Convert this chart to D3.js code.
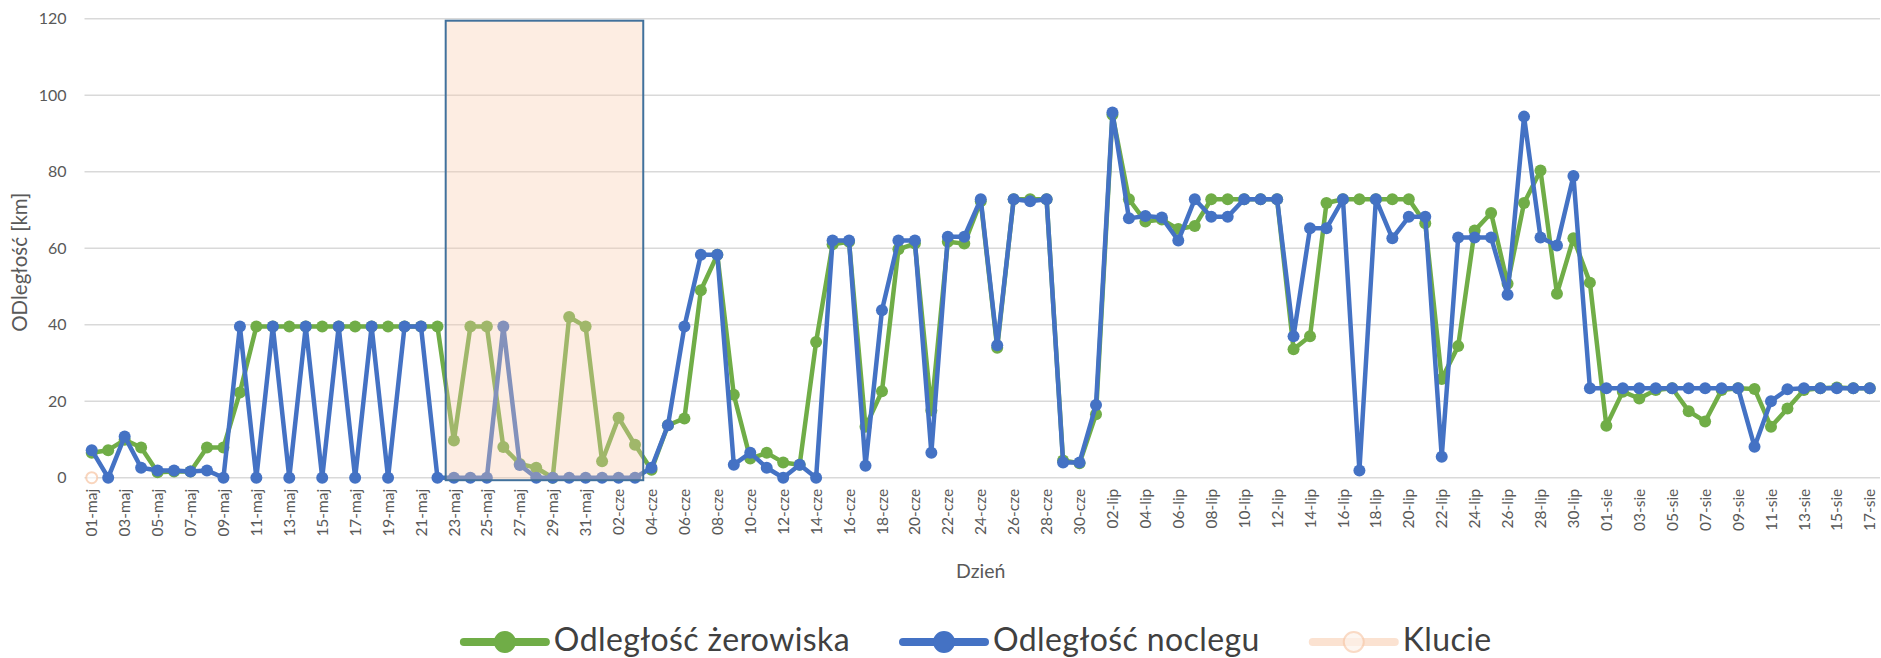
<!DOCTYPE html>
<html>
<head>
<meta charset="utf-8">
<script src="https://cdn.jsdelivr.net/npm/d3@7"></script>
<style>
  body { margin: 0; background: #fff; }
  svg { display: block; font-family: Lato, "Open Sans", sans-serif; }
</style>
</head>
<body>
<div id="chart"></div>
<script>
// Dni obserwacji
const dni = [
  "01-maj","02-maj","03-maj","04-maj","05-maj","06-maj","07-maj","08-maj","09-maj","10-maj",
  "11-maj","12-maj","13-maj","14-maj","15-maj","16-maj","17-maj","18-maj","19-maj","20-maj",
  "21-maj","22-maj","23-maj","24-maj","25-maj","26-maj","27-maj","28-maj","29-maj","30-maj","31-maj",
  "01-cze","02-cze","03-cze","04-cze","05-cze","06-cze","07-cze","08-cze","09-cze","10-cze",
  "11-cze","12-cze","13-cze","14-cze","15-cze","16-cze","17-cze","18-cze","19-cze","20-cze",
  "21-cze","22-cze","23-cze","24-cze","25-cze","26-cze","27-cze","28-cze","29-cze","30-cze",
  "01-lip","02-lip","03-lip","04-lip","05-lip","06-lip","07-lip","08-lip","09-lip","10-lip",
  "11-lip","12-lip","13-lip","14-lip","15-lip","16-lip","17-lip","18-lip","19-lip","20-lip",
  "21-lip","22-lip","23-lip","24-lip","25-lip","26-lip","27-lip","28-lip","29-lip","30-lip","31-lip",
  "01-sie","02-sie","03-sie","04-sie","05-sie","06-sie","07-sie","08-sie","09-sie","10-sie",
  "11-sie","12-sie","13-sie","14-sie","15-sie","16-sie","17-sie"
];

// Odległość żerowiska [km]
const zerowisko = [
  6.5, 7.2, 9.9, 7.9, 1.4, 1.6, 1.6, 7.9, 7.9, 22.3,
  39.5, 39.5, 39.5, 39.5, 39.5, 39.5, 39.5, 39.5, 39.5, 39.5,
  39.5, 39.5, 9.7, 39.5, 39.5, 8, 3.6, 2.6, 0, 42,
  39.5, 4.3, 15.7, 8.6, 2.1, 13.7, 15.5, 49, 58.3, 21.7,
  5, 6.5, 4, 3.4, 35.5, 61, 61.7, 13.3, 22.6, 59.7,
  61.2, 17.6, 61.7, 61.2, 72.3, 34, 72.8, 72.8, 72.8, 4.5,
  3.8, 16.6, 94.9, 72.8, 67, 67.5, 65, 65.8, 72.8, 72.8,
  72.8, 72.8, 72.8, 33.6, 37, 71.8, 72.8, 72.8, 72.8, 72.8,
  72.8, 66.5, 25.8, 34.4, 64.6, 69.2, 50.7, 71.8, 80.3, 48.1,
  62.6, 51, 13.6, 22.5, 20.7, 22.9, 23.4, 17.4, 14.7, 22.9,
  23.4, 23.2, 13.3, 18.1, 22.9, 23.4, 23.6, 23.4, 23.4
];

// Odległość noclegu [km]
const nocleg = [
  7.2, 0, 10.8, 2.6, 1.9, 1.9, 1.6, 1.9, 0, 39.5,
  0, 39.5, 0, 39.5, 0, 39.5, 0, 39.5, 0, 39.5,
  39.5, 0, 0, 0, 0, 39.5, 3.3, 0, 0, 0,
  0, 0, 0, 0, 2.6, 13.7, 39.5, 58.3, 58.3, 3.4,
  6.5, 2.6, 0, 3.4, 0, 62, 62, 3.1, 43.8, 62,
  62, 6.5, 63, 63, 72.8, 34.6, 72.8, 72.3, 72.8, 4,
  4, 19, 95.5, 67.8, 68.4, 68, 62, 72.8, 68.2, 68.2,
  72.8, 72.8, 72.8, 37, 65.2, 65.2, 72.8, 1.9, 72.8, 62.6,
  68.2, 68.2, 5.5, 62.8, 62.8, 62.8, 47.8, 94.4, 62.8, 60.7,
  78.9, 23.4, 23.4, 23.4, 23.4, 23.4, 23.4, 23.4, 23.4, 23.4,
  23.4, 8.1, 20, 23.1, 23.4, 23.4, 23.4, 23.4, 23.4
];

// Klucie: punkt serii i okres zaznaczony prostokątem
const klucie = [{ dzien: "01-maj", wartosc: 0 }];
const klucieOkres = { od: "23-maj", do: "03-cze", max: 120 };

const yTicks = [0, 20, 40, 60, 80, 100, 120];
const seriesNames = ["Odległość żerowiska", "Odległość noclegu", "Klucie"];
const colors = ["#70ad47", "#4472c4", "#f8cbad"];

const width = 1881, height = 658;
const plot = { left: 83.5, right: 1878, top: 18.7, bottom: 477.7 };

const svg = d3.select("#chart").append("svg")
  .attr("width", width)
  .attr("height", height);

const x = d3.scaleBand().domain(dni).range([plot.left, plot.right]);
const xc = (d) => x(d) + x.bandwidth() / 2;
const y = d3.scaleLinear().domain([0, 120]).range([plot.bottom, plot.top]);

// Gridlines
svg.append("g").attr("class", "grid")
  .selectAll("line").data(yTicks).join("line")
  .attr("x1", plot.left + 1).attr("x2", plot.right + 2)
  .attr("y1", (d) => y(d)).attr("y2", (d) => y(d))
  .attr("stroke", "#d9d9d9").attr("stroke-width", 1.5);

// Y axis
const yAxisG = svg.append("g").attr("transform", `translate(${plot.left},0)`)
  .call(d3.axisLeft(y).tickValues(yTicks).tickSize(0).tickPadding(17));
yAxisG.select(".domain").remove();
yAxisG.selectAll("text").attr("font-size", "16px").attr("fill", "#595959")
  .attr("font-family", "Lato, sans-serif");

// X axis — co drugi dzień
const xAxisG = svg.append("g").attr("transform", `translate(0,${plot.bottom})`)
  .call(d3.axisBottom(x).tickValues(dni.filter((d, i) => i % 2 === 0)).tickSize(0));
xAxisG.select(".domain").remove();
xAxisG.selectAll("text")
  .attr("transform", "rotate(-90)")
  .attr("text-anchor", "end")
  .attr("x", -11).attr("y", 0).attr("dy", "0.36em")
  .attr("font-size", "15.5px").attr("fill", "#595959")
  .attr("font-family", "Lato, sans-serif");

// Axis titles
svg.append("text")
  .attr("transform", `translate(19,${(plot.top + plot.bottom) / 2 + 14}) rotate(-90)`)
  .attr("text-anchor", "middle").attr("dominant-baseline", "central")
  .attr("font-size", "20.5px").attr("fill", "#595959")
  .text("ODległość [km]");

svg.append("text")
  .attr("x", (plot.left + plot.right) / 2).attr("y", 570)
  .attr("text-anchor", "middle").attr("dominant-baseline", "central")
  .attr("font-size", "19.5px").attr("fill", "#595959")
  .text("Dzień");

// Series
const line = d3.line().x((d, i) => xc(dni[i])).y((d) => y(d));
[zerowisko, nocleg].forEach((values, k) => {
  const g = svg.append("g").attr("class", "series");
  g.append("path").datum(values)
    .attr("d", line)
    .attr("fill", "none")
    .attr("stroke", colors[k]).attr("stroke-width", 4.5)
    .attr("stroke-linejoin", "round");
  g.selectAll("circle").data(values).join("circle")
    .attr("cx", (d, i) => xc(dni[i]))
    .attr("cy", (d) => y(d))
    .attr("r", 6)
    .attr("fill", colors[k]);
});

// Klucie — okres
svg.append("rect")
  .attr("x", x(klucieOkres.od))
  .attr("y", y(klucieOkres.max) + 2)
  .attr("width", x(klucieOkres.do) + x.bandwidth() - x(klucieOkres.od))
  .attr("height", y(0) - y(klucieOkres.max) + 0.5)
  .attr("fill", colors[2]).attr("fill-opacity", 0.35)
  .attr("stroke", "#41719c").attr("stroke-width", 2);

svg.append("g").selectAll("circle").data(klucie).join("circle")
  .attr("cx", (d) => xc(d.dzien))
  .attr("cy", (d) => y(d.wartosc))
  .attr("r", 5.5)
  .attr("fill", "#fff").attr("fill-opacity", 0.6)
  .attr("stroke", colors[2]).attr("stroke-width", 2).attr("stroke-opacity", 0.8);

// Legend
const legendG = svg.append("g").attr("class", "legend")
  .attr("transform", "translate(0,642)");
const items = legendG.selectAll("g").data(seriesNames).join("g");
items.append("line")
  .attr("x1", 0).attr("x2", 82).attr("y1", 0).attr("y2", 0)
  .attr("stroke", (d, i) => colors[i]).attr("stroke-width", 8)
  .attr("stroke-linecap", "round")
  .attr("opacity", (d, i) => i === 2 ? 0.55 : 1);
items.append("circle")
  .attr("cx", 41).attr("cy", 0).attr("r", 10)
  .attr("fill", (d, i) => i === 2 ? "#fdf3ec" : colors[i])
  .attr("stroke", (d, i) => colors[i]).attr("stroke-width", 2)
  .attr("opacity", (d, i) => i === 2 ? 0.7 : 1);
items.append("text")
  .attr("x", 90).attr("y", -4).attr("dominant-baseline", "central")
  .attr("font-size", "32px").attr("letter-spacing", "0.4px").attr("fill", "#404040")
  .text((d) => d);

let widths = [];
items.each(function () {
  widths.push(90 + d3.select(this).select("text").node().getComputedTextLength());
});
const gap = 53;
const total = d3.sum(widths) + gap * (widths.length - 1);
let cursor = (plot.left + plot.right) / 2 - total / 2 - 3;
items.attr("transform", (d, i) => {
  const tx = cursor;
  cursor += widths[i] + gap;
  return `translate(${tx},0)`;
});
</script>
</body>
</html>
